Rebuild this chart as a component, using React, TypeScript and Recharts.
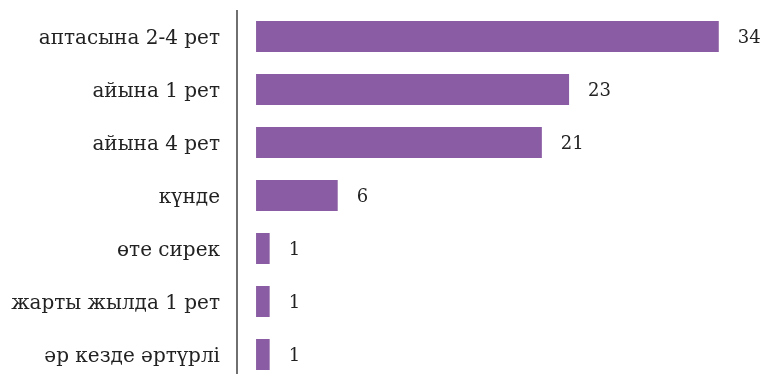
import { BarChart, Bar, XAxis, YAxis, LabelList } from "recharts";

const categories = [
  "аптасына 2-4 рет",
  "айына 1 рет",
  "айына 4 рет",
  "күнде",
  "өте сирек",
  "жарты жылда 1 рет",
  "әр кезде әртүрлі",
];
const counts = [34, 23, 21, 6, 1, 1, 1];

const FONT = "'DejaVu Serif', serif";

export default function App() {
  const data = categories.map((name, i) => ({ name, value: counts[i] }));

  // fixed so the slightly-too-tall chart doesn't make the page scroll
  return (
    <div style={{ position: "fixed", left: 8, top: 8 }}>
      <BarChart
        width={755}
        height={373}
        data={data}
        layout="vertical"
        margin={{ top: 2, right: 17, bottom: 0, left: 0 }}
      >
        <XAxis type="number" domain={[-1.4, 36]} hide />
        <YAxis
          type="category"
          dataKey="name"
          width={229}
          tickLine={false}
          tickMargin={11}
          axisLine={{ stroke: "#222", strokeWidth: 1.3 }}
          tick={{ fill: "#222", fontSize: 20, fontFamily: FONT }}
        />
        <Bar dataKey="value" fill="#8a5ca3" barSize={31} isAnimationActive={false}>
          <LabelList
            dataKey="value"
            position="right"
            offset={19}
            style={{ fill: "#222", fontSize: 18, fontFamily: FONT }}
          />
        </Bar>
      </BarChart>
    </div>
  );
}
